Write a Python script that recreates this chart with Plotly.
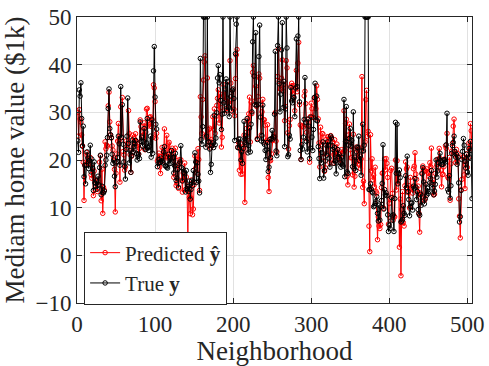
import plotly.graph_objects as go

# Median home values (in $1k) for each of the 506 neighborhoods
true_values = [
    24.0, 21.6, 34.7, 33.4, 36.2, 28.7, 22.9, 27.1, 16.5, 18.9,
    15.0, 18.9, 21.7, 20.4, 18.2, 19.9, 23.1, 17.5, 20.2, 18.2,
    13.6, 19.6, 15.2, 14.5, 15.6, 13.9, 16.6, 14.8, 18.4, 21.0,
    12.7, 14.5, 13.2, 13.1, 13.5, 18.9, 20.0, 21.0, 24.7, 30.8,
    34.9, 26.6, 25.3, 24.7, 21.2, 19.3, 20.0, 16.6, 14.4, 19.4,
    19.7, 20.5, 25.0, 23.4, 18.9, 35.4, 24.7, 31.6, 23.3, 19.6,
    18.7, 16.0, 22.2, 25.0, 33.0, 23.5, 19.4, 22.0, 17.4, 20.9,
    24.2, 21.7, 22.8, 23.4, 24.1, 21.4, 20.0, 20.8, 21.2, 20.3,
    28.0, 23.9, 24.8, 22.9, 23.9, 26.6, 22.5, 22.2, 23.6, 28.7,
    22.6, 22.0, 22.9, 25.0, 20.6, 28.4, 21.4, 38.7, 43.8, 33.2,
    27.5, 26.5, 18.6, 19.3, 20.1, 19.5, 19.5, 20.4, 19.8, 19.4,
    21.7, 22.8, 18.8, 18.7, 18.5, 18.3, 21.2, 19.2, 20.4, 19.3,
    22.0, 20.3, 20.5, 17.3, 18.8, 21.4, 15.7, 16.2, 18.0, 14.3,
    19.2, 19.6, 23.0, 18.4, 15.6, 18.1, 17.4, 17.1, 13.3, 17.8,
    14.0, 14.4, 13.4, 15.6, 11.8, 13.8, 15.6, 14.6, 17.8, 15.4,
    21.5, 19.6, 15.3, 19.4, 17.0, 15.6, 13.1, 41.3, 24.3, 23.3,
    27.0, 50.0, 50.0, 50.0, 22.7, 25.0, 50.0, 23.8, 23.8, 22.3,
    17.4, 19.1, 23.1, 23.6, 22.6, 29.4, 23.2, 24.6, 29.9, 37.2,
    39.8, 36.2, 37.9, 32.5, 26.4, 29.6, 50.0, 32.0, 29.8, 34.9,
    37.0, 30.5, 36.4, 31.1, 29.1, 50.0, 33.3, 30.3, 34.6, 34.9,
    32.9, 24.1, 42.3, 48.5, 50.0, 22.6, 24.4, 22.5, 24.4, 20.0,
    21.7, 19.3, 22.4, 28.1, 23.7, 25.0, 23.3, 28.7, 21.5, 23.0,
    26.7, 21.7, 27.5, 30.1, 44.8, 50.0, 37.6, 31.6, 46.7, 31.5,
    24.3, 31.7, 41.7, 48.3, 29.0, 24.0, 25.1, 31.5, 23.7, 23.3,
    22.0, 20.1, 22.2, 23.7, 17.6, 18.5, 24.3, 20.5, 24.5, 26.2,
    24.4, 24.8, 29.6, 42.8, 21.9, 20.9, 44.0, 50.0, 36.0, 30.1,
    33.8, 43.1, 48.8, 31.0, 36.5, 22.8, 30.7, 50.0, 43.5, 20.7,
    21.1, 25.2, 24.4, 35.2, 32.4, 32.0, 33.2, 33.1, 29.1, 35.1,
    45.4, 35.4, 46.0, 50.0, 32.2, 22.0, 20.1, 23.2, 22.3, 24.8,
    28.5, 37.3, 27.9, 23.9, 21.7, 28.6, 27.1, 20.3, 22.5, 29.0,
    24.8, 22.0, 26.4, 33.1, 36.1, 28.4, 33.4, 28.2, 22.8, 20.3,
    16.1, 22.1, 19.4, 21.6, 23.8, 16.2, 17.8, 19.8, 23.1, 21.0,
    23.8, 23.1, 20.4, 18.5, 25.0, 24.6, 23.0, 22.2, 19.3, 22.6,
    19.8, 17.1, 19.4, 22.2, 20.7, 21.1, 19.5, 18.5, 20.6, 19.0,
    18.7, 32.7, 16.5, 23.9, 31.2, 17.5, 17.2, 23.1, 24.5, 26.6,
    22.9, 24.1, 18.6, 30.1, 18.2, 20.6, 17.8, 21.7, 22.7, 22.6,
    25.0, 19.9, 20.8, 16.8, 21.9, 27.5, 21.9, 23.1, 50.0, 50.0,
    50.0, 50.0, 50.0, 13.8, 13.8, 15.0, 13.9, 13.3, 13.1, 10.2,
    10.4, 10.9, 11.3, 12.3, 8.8, 7.2, 10.5, 7.4, 10.2, 11.5,
    15.1, 23.2, 9.7, 13.8, 12.7, 13.1, 12.5, 8.5, 5.0, 6.3,
    5.6, 7.2, 12.1, 8.3, 8.5, 5.0, 11.9, 27.9, 17.2, 27.5,
    15.0, 17.2, 17.9, 16.3, 7.0, 7.2, 7.5, 10.4, 8.8, 8.4,
    16.7, 14.2, 20.8, 13.4, 11.7, 8.3, 10.2, 10.9, 11.0, 9.5,
    14.5, 14.1, 16.1, 14.3, 11.7, 13.4, 9.6, 8.7, 8.4, 12.8,
    10.5, 17.1, 18.4, 15.4, 10.8, 11.8, 14.9, 12.6, 14.1, 13.0,
    13.4, 15.2, 16.1, 17.8, 14.9, 14.1, 12.7, 13.5, 14.9, 20.0,
    16.4, 17.7, 19.5, 20.2, 21.4, 19.9, 19.0, 19.1, 19.1, 20.1,
    19.9, 19.6, 23.2, 29.8, 13.8, 13.3, 16.7, 12.0, 14.6, 21.4,
    23.0, 23.7, 25.0, 21.8, 20.6, 21.2, 19.1, 20.6, 15.2, 7.0,
    8.1, 13.6, 20.1, 21.8, 24.5, 23.1, 19.7, 18.3, 21.2, 17.5,
    16.8, 22.4, 20.6, 23.9, 22.0, 11.9,
]

# Model predictions for the same neighborhoods
predicted_values = [
    30.0038, 25.0256, 30.5676, 28.6071, 27.9435, 25.2563, 23.0018, 19.5360, 11.5236, 18.9203,
    18.9995, 21.5868, 20.9065, 19.5529, 19.2835, 19.2975, 20.5275, 16.9114, 16.1780, 18.4061,
    12.5239, 17.6710, 15.8329, 13.8063, 15.6784, 13.3867, 15.4640, 14.7085, 19.5474, 20.8731,
    11.4551, 18.0592, 8.8111, 14.2823, 13.7068, 23.8146, 22.3419, 23.1089, 22.9150, 31.3576,
    34.2151, 28.0206, 25.2039, 24.6098, 22.9415, 22.0967, 20.4232, 18.0365, 9.1066, 17.2061,
    21.2815, 23.9722, 27.6559, 24.0490, 15.3619, 31.1526, 24.8569, 33.1092, 21.7754, 21.0849,
    17.8726, 18.5111, 23.9874, 22.5541, 23.3731, 30.3615, 25.5306, 21.1134, 17.4215, 20.7848,
    25.2015, 21.7426, 24.5574, 24.0430, 25.5050, 23.9669, 22.9455, 23.3570, 21.2619, 22.4282,
    28.4057, 26.9949, 26.0358, 25.0587, 24.7846, 27.7905, 22.1685, 25.8928, 30.6746, 30.8311,
    27.1190, 27.4127, 28.9412, 29.0811, 27.0398, 28.6246, 24.7274, 35.7816, 35.1145, 32.2510,
    24.5802, 25.5941, 19.7901, 20.3117, 21.4348, 18.5395, 17.1876, 20.7505, 22.6483, 19.7720,
    20.6497, 26.5255, 20.7732, 20.7155, 25.1721, 20.4303, 23.3772, 23.6934, 20.3386, 20.7858,
    21.9163, 22.4711, 20.5574, 16.3666, 20.5610, 22.4818, 14.6171, 15.1788, 18.9387, 14.0557,
    20.0353, 19.4101, 20.0619, 15.7581, 13.2565, 17.2628, 15.8784, 19.3616, 13.8148, 16.4488,
    13.5714, 3.9889, 14.5950, 12.1489, 8.7282, 12.0359, 15.8208, 8.5150, 9.7184, 14.8045,
    20.8386, 18.3010, 20.1228, 17.2860, 22.3660, 20.1038, 13.6213, 33.2598, 29.0303, 25.5675,
    32.7083, 36.7747, 40.5577, 41.8473, 24.7886, 25.3789, 37.2035, 23.0875, 26.4027, 26.6538,
    22.5551, 24.2908, 22.9766, 29.0719, 26.5220, 30.7221, 25.6167, 29.1374, 31.4357, 32.9223,
    34.7244, 27.7655, 33.8879, 30.9924, 22.7182, 24.7665, 35.8850, 33.4248, 32.4120, 34.5151,
    30.7611, 30.2893, 32.9192, 32.1126, 31.5587, 40.8456, 36.1277, 32.6692, 34.7047, 30.0935,
    30.6401, 29.2872, 37.0715, 42.0319, 43.1895, 22.6903, 23.6828, 17.8545, 23.4943, 17.0059,
    22.3925, 17.0604, 22.7389, 25.2194, 11.1192, 24.5105, 26.6033, 28.3552, 24.9153, 29.6865,
    33.1842, 23.7746, 32.1405, 29.7458, 38.3710, 39.8146, 37.5861, 32.3995, 35.4567, 31.2341,
    24.4845, 33.2884, 38.0481, 37.1633, 31.7138, 25.2671, 30.1001, 32.7199, 28.4272, 28.4296,
    27.2938, 23.7426, 24.1201, 27.4021, 16.3285, 13.3989, 20.0164, 19.8618, 21.2883, 24.0799,
    24.2063, 25.0422, 24.9196, 29.9456, 23.9723, 21.6958, 37.5110, 43.3024, 36.4837, 34.9899,
    34.8121, 37.1663, 40.9893, 34.4463, 35.8340, 28.2457, 31.2267, 40.8396, 39.3179, 25.7082,
    22.3029, 27.2034, 28.5117, 35.4768, 36.1063, 33.7967, 35.6109, 34.8399, 30.3519, 35.3098,
    38.7976, 34.3312, 40.3396, 44.6731, 31.5968, 27.3560, 20.1017, 27.0421, 27.2136, 26.9140,
    33.4356, 34.4035, 31.8333, 25.8178, 24.4298, 28.4576, 27.3627, 19.5393, 29.1131, 31.9105,
    30.7716, 28.9428, 28.8819, 32.7989, 33.2090, 30.7683, 35.5623, 32.7090, 28.6424, 23.5897,
    18.5427, 26.8789, 23.2813, 25.5458, 25.4812, 20.5391, 17.6157, 18.3758, 24.2907, 21.3253,
    24.8868, 24.8694, 22.8695, 19.4512, 25.1178, 24.6678, 23.6808, 19.3409, 21.1742, 24.2526,
    21.5926, 19.9845, 23.3389, 22.1406, 21.5551, 20.6187, 20.1610, 19.2849, 22.1667, 21.2497,
    21.4294, 30.3279, 22.0473, 27.7065, 28.5479, 16.5450, 14.7836, 25.2738, 27.5421, 22.1484,
    20.4594, 20.5461, 16.8806, 25.4025, 14.3249, 16.5949, 19.6370, 22.7181, 22.2022, 19.2055,
    22.6662, 18.9319, 18.2285, 20.2315, 37.4944, 14.2819, 15.5429, 10.8316, 23.8007, 32.6441,
    34.6068, 24.9433, 25.9998, 6.1263, 0.7778, 25.3071, 17.7406, 20.2327, 15.8333, 16.8351,
    14.3699, 18.4768, 13.4276, 13.0618, 3.2792, 8.0602, 6.1284, 5.6186, 6.4520, 14.2076,
    17.2122, 17.2989, 9.8912, 20.2212, 17.9418, 20.3045, 19.2956, 16.3363, 6.5516, 10.8902,
    11.8815, 17.8117, 18.2613, 12.9795, 7.3782, 8.2112, 8.0666, 19.9829, 13.7076, 19.8526,
    15.2231, 16.9607, 1.7185, 11.8058, -4.2813, 9.5838, 13.3666, 6.8956, 6.1478, 14.6066,
    19.6000, 18.1242, 18.5218, 13.1753, 14.6262, 9.9237, 16.3459, 14.0752, 14.2576, 13.0423,
    18.1596, 18.6955, 21.5273, 17.0314, 15.9609, 13.3614, 14.5208, 8.8198, 4.8675, 13.0659,
    12.7061, 17.2956, 18.7405, 18.0590, 11.5147, 11.9740, 17.6834, 18.1270, 17.5218, 17.2274,
    16.5227, 19.4129, 18.5822, 22.4894, 15.2800, 15.8209, 12.6873, 12.8763, 17.1866, 18.5125,
    19.0486, 20.1721, 19.7740, 22.4294, 20.3191, 17.8862, 14.3748, 16.9478, 16.9841, 18.5884,
    20.1672, 22.9772, 22.4558, 25.5782, 16.3915, 16.1114, 20.5349, 11.5427, 19.2050, 21.8628,
    23.4688, 27.0989, 28.5699, 21.0840, 19.4552, 22.2223, 19.6559, 21.3254, 11.8558, 8.2239,
    3.6640, 13.7591, 15.9312, 20.6266, 20.6125, 16.8854, 14.0132, 19.1085, 21.2980, 18.4550,
    20.4687, 23.5334, 22.3757, 27.6274, 26.1280, 22.3442,
]

neighborhood = list(range(1, len(true_values) + 1))

x_ticks = [0, 100, 200, 300, 400, 500]
y_ticks = [-10, 0, 10, 20, 30, 40, 50]

FONT = "Liberation Serif, Times New Roman, serif"
AXIS_GRAY = "#262626"

fig = go.Figure()

fig.add_trace(go.Scatter(
    x=neighborhood, y=predicted_values,
    mode="lines+markers",
    name="Predicted <b>ŷ</b>",
    line=dict(color="#ff0000", width=1),
    marker=dict(symbol="circle-open", size=4.5, color="#ff0000", line=dict(width=1)),
))

fig.add_trace(go.Scatter(
    x=neighborhood, y=true_values,
    mode="lines+markers",
    name="True <b>y</b>",
    line=dict(color="#000000", width=1),
    marker=dict(symbol="circle-open", size=4.5, color="#000000", line=dict(width=1)),
))

axis_common = dict(
    showline=True, linecolor=AXIS_GRAY, linewidth=1, mirror="ticks",
    ticks="inside", ticklen=5, tickcolor=AXIS_GRAY, tickwidth=1,
    showgrid=True, gridcolor="#e1e1e1", gridwidth=1, zeroline=False,
    tickfont=dict(family=FONT, size=23, color=AXIS_GRAY),
    automargin=False,
)

fig.update_xaxes(
    range=[0, 506], tickvals=x_ticks,
    title=dict(text="Neighborhood", font=dict(family=FONT, size=27, color=AXIS_GRAY), standoff=2),
    **axis_common,
)
fig.update_yaxes(
    range=[-10, 50], tickvals=y_ticks,
    title=dict(text="Mediam home value ($1k)", font=dict(family=FONT, size=27, color=AXIS_GRAY), standoff=7),
    **axis_common,
)

fig.update_layout(
    width=489, height=366,
    margin=dict(l=77, r=17, t=17, b=63),
    paper_bgcolor="white", plot_bgcolor="white",
    font=dict(family=FONT, size=20, color=AXIS_GRAY),
    showlegend=True,
    legend=dict(
        x=0.018, y=0.25, xanchor="left", yanchor="top",
        bgcolor="white", bordercolor=AXIS_GRAY, borderwidth=1,
        font=dict(family=FONT, size=21, color=AXIS_GRAY),
        tracegroupgap=0, itemwidth=30,
    ),
)

fig.write_html("out.html")
